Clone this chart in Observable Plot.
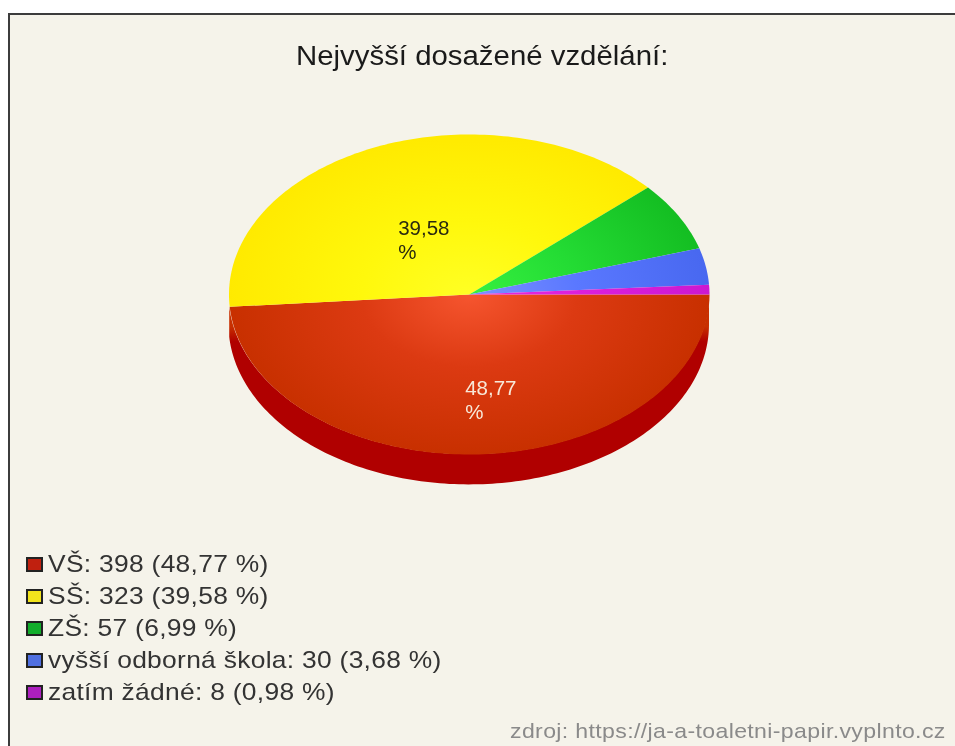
<!DOCTYPE html>
<html lang="cs">
<head>
<meta charset="utf-8">
<script src="https://cdn.jsdelivr.net/npm/d3@7"></script>
<script src="https://cdn.jsdelivr.net/npm/@observablehq/plot@0.6"></script>
<style>
html,body{margin:0;padding:0;background:#fff;overflow:hidden}
body{width:955px;height:746px;position:relative;font-family:"Liberation Sans",Arial,sans-serif;filter:blur(.6px)}
#frame{position:absolute;left:8px;top:13px;width:947px;height:733px;box-sizing:border-box;background:#f5f3ea;border-left:2px solid #3c3c3c;border-top:2px solid #3c3c3c}
#title{position:absolute;left:296px;top:41px;font-size:27px;line-height:30px;color:#1a1a1a;white-space:nowrap;transform:scaleX(1.088);transform-origin:left center}
#chart{position:absolute;left:10px;top:90px}
#legend{position:absolute;left:26px;top:548px;font-size:24px;color:#333}
#legend div{height:32px;line-height:32px;white-space:nowrap;display:flex;align-items:center}
#legend i{display:inline-block;width:16.5px;height:15px;box-sizing:border-box;border:2px solid #222;margin-right:5.5px;flex:none}
#legend span{display:inline-block;transform:scaleX(1.1);transform-origin:left center;letter-spacing:.26px}
#source{position:absolute;left:510px;top:720px;font-size:21px;line-height:22px;color:#8a8a8a;white-space:nowrap;transform:scaleX(1.1);transform-origin:left center;letter-spacing:.32px}
</style>
</head>
<body>
<div id="frame"></div>
<div id="title"></div>
<div id="chart"></div>
<div id="legend"></div>
<div id="source"></div>
<script>
const titleText = "Nejvyšší dosažené vzdělání:";
const sourceText = "zdroj: https://ja-a-toaletni-papir.vyplnto.cz";
const categories = ["VŠ", "SŠ", "ZŠ", "vyšší odborná škola", "zatím žádné"];
const counts = [398, 323, 57, 30, 8];
const percents = ["48,77", "39,58", "6,99", "3,68", "0,98"];
const swatchColors = ["#c0200f", "#f2e41c", "#12ad2b", "#4f6fe0", "#ad1fbf"];
const gradientStops = [
  ["#f6552f", "#dc3a12", "#c83000"],
  ["#ffff24", "#fff80c", "#ffea00"],
  ["#36f040", "#24dc34", "#14be22"],
  ["#7c90ff", "#5a78ff", "#4868f0"],
  ["#e828e0", "#dc20dc", "#cc18d0"]
];
const rimColor = "#b00000";
const rimEdgeColor = "#c83000";
const rimDepth = 0.19;

const pieArcs = d3.pie().sort(null).value(d => d)(counts);
const arcPoints = (a0, a1) => {
  const n = Math.max(2, Math.ceil((a1 - a0) / 0.02));
  return d3.range(n + 1).map(i => {
    const t = a0 + (a1 - a0) * i / n;
    return {x: Math.cos(t), y: -Math.sin(t)};
  });
};
const sliceShapes = pieArcs.map(a => [{x: 0, y: 0}, ...arcPoints(a.startAngle, a.endAngle), {x: 0, y: 0}]);
const rimPoints = arcPoints(pieArcs[0].startAngle, pieArcs[0].endAngle);

const gradientDefs = (index, {x, y}) => {
  const defs = d3.create("svg:defs");
  const cx = x(0), cy = y(0), rx = x(1) - cx, ry = cy - y(1);
  gradientStops.forEach((stops, i) => {
    const g = defs.append("radialGradient")
      .attr("id", "slice" + i)
      .attr("gradientUnits", "userSpaceOnUse")
      .attr("cx", 0).attr("cy", 0).attr("r", 1)
      .attr("gradientTransform", `translate(${cx},${cy}) scale(${rx},${ry})`);
    [0, 0.45, 1].forEach((o, k) => g.append("stop").attr("offset", o).attr("stop-color", stops[k]));
  });
  const rim = defs.append("linearGradient")
    .attr("id", "rim")
    .attr("gradientUnits", "userSpaceOnUse")
    .attr("x1", 0).attr("x2", 0)
    .attr("y1", y(0)).attr("y2", y(-1.19));
  [[0, rimEdgeColor], [0.17, rimEdgeColor], [0.25, rimColor], [1, rimColor]].forEach(([o, c]) =>
    rim.append("stop").attr("offset", o).attr("stop-color", c));
  return defs.node();
};

const chart = Plot.plot({
  width: 945,
  height: 420,
  margin: 0,
  style: {background: "transparent", overflow: "visible"},
  x: {domain: [-1, 1], range: [218.5, 699], axis: null},
  y: {domain: [-1, 1], range: [364, 44], axis: null},
  marks: [
    gradientDefs,
    Plot.areaY(rimPoints, {x: "x", y1: "y", y2: d => d.y - rimDepth, fill: "url(#rim)"}),
    ...sliceShapes.map((pts, i) => Plot.line(pts, {x: "x", y: "y", fill: `url(#slice${i})`, stroke: "none", curve: "linear"})),
    Plot.text([percents[1] + "\n%"], {x: -0.296, y: 0.345, text: d => d, textAnchor: "start", fill: "#2a2a10", fontSize: 20.5, lineHeight: 1.17, fontFamily: "Liberation Sans"}),
    Plot.text([percents[0] + "\n%"], {x: -0.017, y: -0.655, text: d => d, textAnchor: "start", fill: "#f8e8d8", fontSize: 20.5, lineHeight: 1.17, fontFamily: "Liberation Sans"})
  ]
});
document.getElementById("chart").append(chart);

document.getElementById("title").textContent = titleText;
document.getElementById("source").textContent = sourceText;
const legend = d3.select("#legend");
categories.forEach((c, i) => {
  const row = legend.append("div");
  row.append("i").style("background", swatchColors[i]);
  row.append("span").text(`${c}: ${counts[i]} (${percents[i]} %)`);
});
</script>
</body>
</html>
